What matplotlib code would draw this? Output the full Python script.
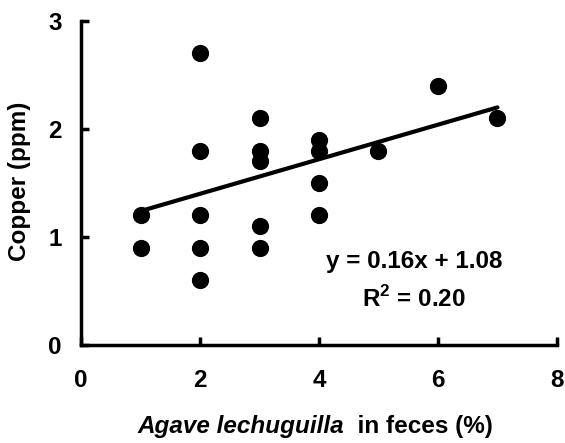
import numpy
import matplotlib
matplotlib.use('Agg')
from matplotlib import pyplot
pyplot.rcParams.update({'font.family': ['Liberation Sans', 'DejaVu Sans'], 'font.size': 17.5, 'font.weight': 'bold',
                        'mathtext.fontset': 'custom', 'mathtext.bf': 'Liberation Sans:bold', 'mathtext.rm': 'Liberation Sans:bold'})

agave = [1, 1, 2, 2, 2, 2, 2, 3, 3, 3, 3, 3, 4, 4, 4, 4, 5, 6, 7]
copper = [1.2, 0.9, 2.7, 1.8, 1.2, 0.9, 0.6, 2.1, 1.8, 1.7, 1.1, 0.9, 1.9, 1.8, 1.5, 1.2, 1.8, 2.4, 2.1]
slope = 0.16
intercept = 1.08
fit_x = [1, 7]

fig = pyplot.figure(figsize = (5.65, 4.43), dpi = 100)
ax = fig.add_axes([0.1434, 0.2212, 0.8424, 0.7314])
ax.scatter(agave, copper, s = 130, color = 'black', zorder = 3, clip_on = False)
fx = numpy.array(fit_x)
ax.plot(fx, slope * fx + intercept, color = 'black', linewidth = 3, solid_capstyle = 'round')

ax.set_xlim(0, 8)
ax.set_ylim(0, 3)
ax.set_xticks([0, 2, 4, 6, 8])
ax.set_yticks([0, 1, 2, 3])
for s in ['top', 'right']:
    ax.spines[s].set_visible(False)
for s in ['left', 'bottom']:
    ax.spines[s].set_linewidth(2.5)
ax.tick_params(direction = 'in', length = 6, width = 2.5)
ax.tick_params(axis = 'x', pad = 17)
ax.tick_params(axis = 'y', pad = 14)

fig.text(20 / 565, 0.591, 'Copper (ppm)', rotation = 90, ha = 'center', va = 'center', fontweight = 'bold')
t = fig.text(0.2425, 0.0226, 'Agave lechuguilla', style = 'italic', fontweight = 'bold', va = 'baseline')
ax.annotate('  in feces (%)', xy = (1, 0), xycoords = t, va = 'bottom', fontweight = 'bold')

ax.text(5.6, 0.77, 'y = %.2fx + %.2f' % (slope, intercept), ha = 'center', va = 'center', fontweight = 'bold')
ax.text(5.6, 0.43, 'R$^{\\mathbf{2}}$ = 0.20', ha = 'center', va = 'center', fontweight = 'bold')

fig.savefig('out.png')
